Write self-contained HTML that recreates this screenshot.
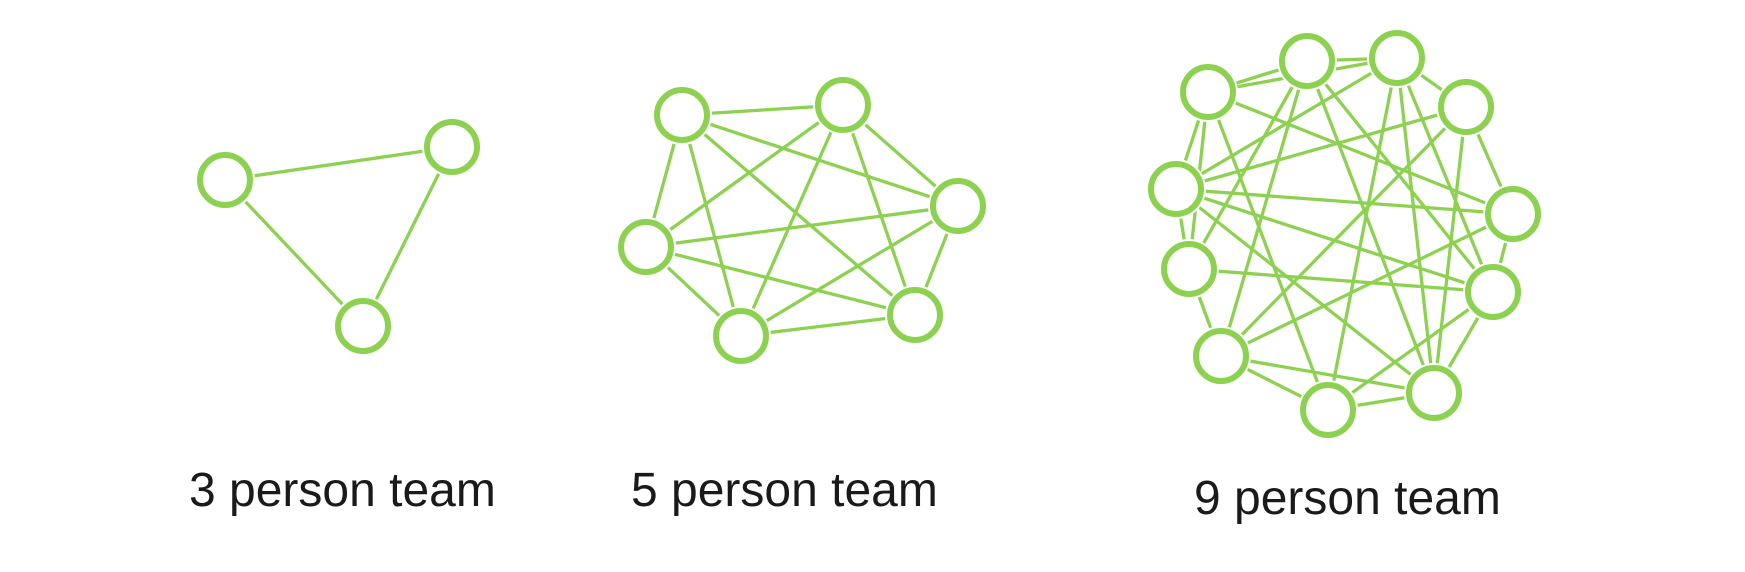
<!DOCTYPE html>
<html><head><meta charset="utf-8"><style>
html,body{margin:0;padding:0;background:#fff;width:1745px;height:572px;overflow:hidden}
svg{position:absolute;left:0;top:0}
text{font-family:"Liberation Sans",sans-serif;font-size:48px;fill:#1a1a1a}
</style></head><body>
<svg width="1745" height="572" viewBox="0 0 1745 572">
<defs>
<g id="n"><circle r="30" fill="#fff"/><circle r="25" fill="#fff" stroke="#8dd150" stroke-width="6"/></g>
</defs>
<g stroke="#8dd150" stroke-width="3.3" fill="none">
<!-- 3 -->
<line x1="225" y1="180" x2="452" y2="147"/><line x1="225" y1="180" x2="363" y2="326"/><line x1="452" y1="147" x2="363" y2="326"/>
<!-- 5 -->
<line x1="682" y1="115" x2="843" y2="105"/><line x1="682" y1="115" x2="958" y2="206"/><line x1="682" y1="115" x2="646" y2="247"/><line x1="682" y1="115" x2="915" y2="315"/><line x1="682" y1="115" x2="741" y2="336"/>
<line x1="843" y1="105" x2="958" y2="206"/><line x1="843" y1="105" x2="646" y2="247"/><line x1="843" y1="105" x2="915" y2="315"/><line x1="843" y1="105" x2="741" y2="336"/>
<line x1="958" y1="206" x2="646" y2="247"/><line x1="958" y1="206" x2="915" y2="315"/><line x1="958" y1="206" x2="741" y2="336"/>
<line x1="646" y1="247" x2="915" y2="315"/><line x1="646" y1="247" x2="741" y2="336"/><line x1="915" y1="315" x2="741" y2="336"/>
<!-- 9 -->
<line x1="1208" y1="92" x2="1307" y2="61"/><line x1="1307" y1="61" x2="1397" y2="58"/><line x1="1397" y1="58" x2="1466" y2="107"/><line x1="1466" y1="107" x2="1513" y2="214"/><line x1="1513" y1="214" x2="1493" y2="292"/><line x1="1493" y1="292" x2="1434" y2="393"/><line x1="1434" y1="393" x2="1328" y2="410"/><line x1="1328" y1="410" x2="1221" y2="356"/><line x1="1221" y1="356" x2="1189" y2="269"/><line x1="1189" y1="269" x2="1176" y2="189"/><line x1="1176" y1="189" x2="1208" y2="92"/>
<line x1="1208" y1="92" x2="1397" y2="58"/><line x1="1208" y1="92" x2="1513" y2="214"/><line x1="1208" y1="92" x2="1328" y2="410"/><line x1="1208" y1="92" x2="1189" y2="269"/>
<line x1="1307" y1="61" x2="1189" y2="269"/><line x1="1307" y1="61" x2="1434" y2="393"/><line x1="1307" y1="61" x2="1493" y2="292"/><line x1="1307" y1="61" x2="1221" y2="356"/>
<line x1="1397" y1="58" x2="1176" y2="189"/><line x1="1397" y1="58" x2="1328" y2="410"/><line x1="1397" y1="58" x2="1434" y2="393"/><line x1="1397" y1="58" x2="1493" y2="292"/>
<line x1="1466" y1="107" x2="1176" y2="189"/><line x1="1466" y1="107" x2="1221" y2="356"/><line x1="1466" y1="107" x2="1434" y2="393"/>
<line x1="1513" y1="214" x2="1176" y2="189"/><line x1="1513" y1="214" x2="1221" y2="356"/>
<line x1="1176" y1="189" x2="1493" y2="292"/><line x1="1176" y1="189" x2="1434" y2="393"/>
<line x1="1189" y1="269" x2="1493" y2="292"/><line x1="1221" y1="356" x2="1434" y2="393"/><line x1="1328" y1="410" x2="1493" y2="292"/>
</g>
<use href="#n" x="225" y="180"/><use href="#n" x="452" y="147"/><use href="#n" x="363" y="326"/>
<use href="#n" x="682" y="115"/><use href="#n" x="843" y="105"/><use href="#n" x="958" y="206"/><use href="#n" x="646" y="247"/><use href="#n" x="915" y="315"/><use href="#n" x="741" y="336"/>
<use href="#n" x="1208" y="92"/><use href="#n" x="1307" y="61"/><use href="#n" x="1397" y="58"/><use href="#n" x="1466" y="107"/><use href="#n" x="1513" y="214"/><use href="#n" x="1176" y="189"/><use href="#n" x="1189" y="269"/><use href="#n" x="1493" y="292"/><use href="#n" x="1221" y="356"/><use href="#n" x="1434" y="393"/><use href="#n" x="1328" y="410"/>
<text x="189" y="506">3 person team</text>
<text x="631" y="506">5 person team</text>
<text x="1194" y="514">9 person team</text>
</svg>
</body></html>
